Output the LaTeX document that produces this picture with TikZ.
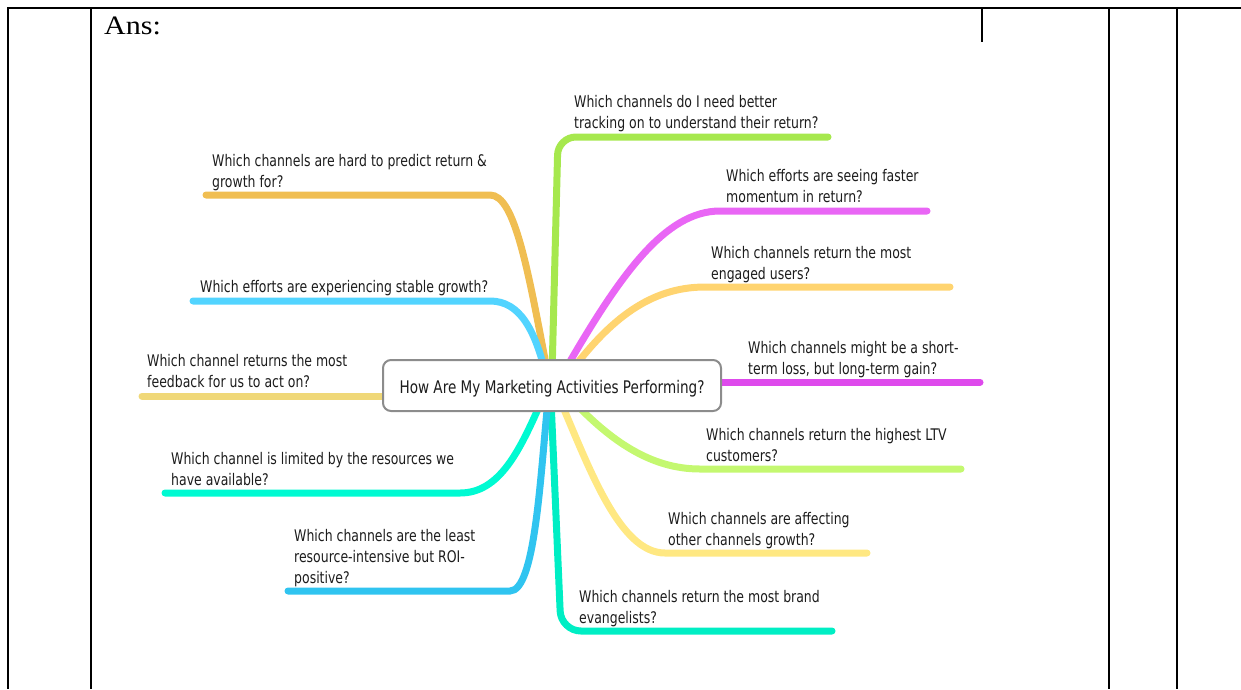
\documentclass[tikz,border=0pt]{standalone}
\usepackage{fontspec}
\setmainfont{Liberation Serif}
\newfontfamily\mmfont[FakeStretch=0.78]{DejaVu Sans}
\newfontfamily\ansfont[FakeStretch=1.13]{Liberation Serif}
\definecolor{cGreen}{RGB}{166,232,78}
\definecolor{cMag}{RGB}{233,102,245}
\definecolor{cOrR}{RGB}{255,212,112}
\definecolor{cMagD}{RGB}{222,74,236}
\definecolor{cLime}{RGB}{196,248,112}
\definecolor{cYel}{RGB}{255,232,130}
\definecolor{cTeal}{RGB}{0,238,196}
\definecolor{cOrL}{RGB}{240,190,82}
\definecolor{cSky}{RGB}{82,212,255}
\definecolor{cKhaki}{RGB}{240,216,120}
\definecolor{cAqua}{RGB}{0,250,210}
\definecolor{cBlue}{RGB}{48,196,240}
\definecolor{txt}{RGB}{28,28,28}
\definecolor{hubline}{RGB}{140,140,140}
\begin{document}
\begin{tikzpicture}[x=1pt,y=-1pt,
  tableline/.style={line width=2pt,black},
  branch/.style={line width=7pt,line cap=round},
  lbl/.style={anchor=south west,inner sep=0pt,text depth=0pt,align=left,text=txt,
    font=\mmfont\fontsize{16}{21.3}\selectfont},
  hub/.style={draw=hubline,line width=2pt,fill=white,rounded corners=8pt,
    minimum width=338pt,minimum height=51pt,inner sep=0pt,text=txt,
    text height=17pt,text depth=2pt,font=\mmfont\fontsize{17.4}{20}\selectfont}]
\useasboundingbox (0,0) rectangle (1241,689);
% table frame
\coordinate (tl) at (8,8);
\coordinate (tr) at (1241,8);
\coordinate (bl) at (8,689);
\draw[tableline] (7,8) -- (1241,8);
\draw[tableline] (8,8) -- (8,689);
\draw[tableline] (91,8) -- (91,689);
\draw[tableline] (982,8) -- (982,42);
\draw[tableline] (1109,8) -- (1109,689);
\draw[tableline] (1177,8) -- (1177,689);
\node[anchor=base west,inner sep=0pt,font=\ansfont\fontsize{26.6}{30}\selectfont] (ans) at (104,34.3) {Ans:};
% branch end points
\coordinate (e1) at (828,137);
\coordinate (e2) at (927,211);
\coordinate (e3) at (950,287);
\coordinate (e4) at (980,382);
\coordinate (e5) at (961,469);
\coordinate (e6) at (867,553);
\coordinate (e7) at (832,631);
\coordinate (e8) at (206,195);
\coordinate (e9) at (193,301);
\coordinate (e10) at (142,396);
\coordinate (e11) at (165,493);
\coordinate (e12) at (288,591);
% branches
\draw[branch,cGreen,rounded corners=18pt] (552,375) -- (558,137) -- (e1);
\draw[branch,cMag] (565,370) .. controls (620,275) and (665,211) .. (720,211) -- (e2);
\draw[branch,cOrR] (572,370) .. controls (610,320) and (650,287) .. (705,287) -- (e3);
\draw[branch,cMagD] (700,382) -- (e4);
\draw[branch,cLime] (572,400) .. controls (610,440) and (650,469) .. (700,469) -- (e5);
\draw[branch,cYel] (560,400) .. controls (590,470) and (620,553) .. (665,553) -- (e6);
\draw[branch,cTeal,rounded corners=20pt] (551,400) -- (561,631) -- (e7);
\draw[branch,cOrL] (548,375) .. controls (528,270) and (515,195) .. (490,195) -- (e8);
\draw[branch,cSky] (546,375) .. controls (535,330) and (520,301) .. (490,301) -- (e9);
\draw[branch,cKhaki] (e10) -- (400,396);
\draw[branch,cAqua] (542,400) .. controls (520,450) and (500,493) .. (460,493) -- (e11);
\draw[branch,cBlue] (548,400) .. controls (540,480) and (535,591) .. (510,591) -- (e12);
% hub
\node[hub] (hubnode) at (552,385.5) {How Are My Marketing Activities Performing?};
% labels
\node[lbl] (l1) at (574,129) {Which channels do I need better\\tracking on to understand their return?};
\node[lbl] (l2) at (726,203) {Which efforts are seeing faster\\momentum in return?};
\node[lbl] (l3) at (711,280) {Which channels return the most\\engaged users?};
\node[lbl] (l4) at (748,375) {Which channels might be a short-\\term loss, but long-term gain?};
\node[lbl] (l5) at (706,462) {Which channels return the highest LTV\\customers?};
\node[lbl] (l6) at (668,546) {Which channels are affecting\\other channels growth?};
\node[lbl] (l7) at (579,624) {Which channels return the most brand\\evangelists?};
\node[lbl] (l8) at (212,188) {Which channels are hard to predict return \&\\growth for?};
\node[lbl] (l9) at (200,293) {Which efforts are experiencing stable growth?};
\node[lbl] (l10) at (147,388) {Which channel returns the most\\feedback for us to act on?};
\node[lbl] (l11) at (171,486) {Which channel is limited by the resources we\\have available?};
\node[lbl] (l12) at (294,584) {Which channels are the least\\resource-intensive but ROI-\\positive?};
\end{tikzpicture}
\end{document}
